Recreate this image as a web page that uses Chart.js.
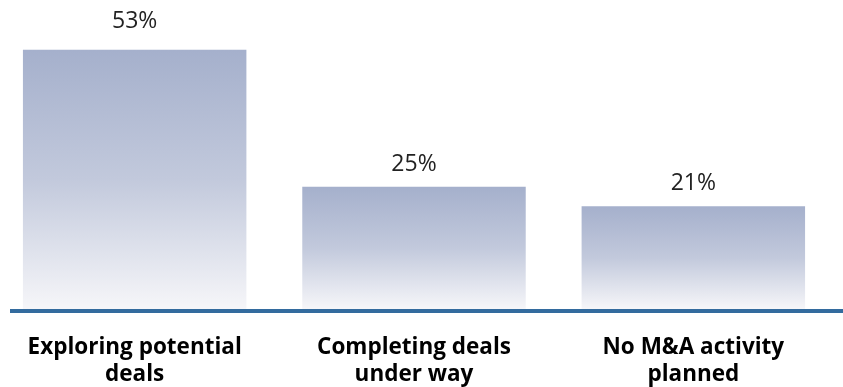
<!DOCTYPE html>
<html>
<head>
<meta charset="utf-8">
<script src="https://cdn.jsdelivr.net/npm/chart.js@4.4.1/dist/chart.umd.min.js"></script>
<style>
    html, body { margin: 0; padding: 0; background: #ffffff; overflow: hidden; }
    #wrap { position: relative; width: 843px; height: 387px; overflow: hidden; }
    #wrap canvas { position: absolute; left: -5px; top: 0; }
</style>
</head>
<body>
<div id="wrap"><canvas id="mnaChart" width="848" height="387"></canvas></div>
<script>
// Datos del gráfico
const categorias = [
    ['Exploring potential', 'deals'],
    ['Completing deals', 'under way'],
    ['No M&A activity', 'planned']
];
const porcentajes = [53, 25, 21];

// Degradado vertical por barra: azul grisáceo arriba, casi blanco en la base
function degradadoBarra(context) {
    const chart = context.chart;
    const area = chart.chartArea;
    if (!area) return '#a5b0cc';
    const yScale = chart.scales.y;
    const valor = porcentajes[context.dataIndex];
    const top = yScale.getPixelForValue(valor);
    const base = yScale.getPixelForValue(0);
    const g = chart.ctx.createLinearGradient(0, top, 0, base);
    g.addColorStop(0, '#a5b0cc');
    g.addColorStop(0.5, '#c2c9dc');
    g.addColorStop(1, '#f6f6f9');
    return g;
}

// Línea base azul y etiquetas de porcentaje
const etiquetasPlugin = {
    id: 'etiquetas',
    afterDatasetsDraw(chart) {
        const ctx = chart.ctx;
        const yScale = chart.scales.y;
        const base = yScale.getPixelForValue(0);
        ctx.save();
        ctx.fillStyle = '#336b9e';
        ctx.fillRect(15, base, chart.width - 15, 4);

        ctx.font = '23px "Open Sans", sans-serif';
        ctx.fillStyle = '#222222';
        ctx.textAlign = 'center';
        ctx.textBaseline = 'alphabetic';
        const meta = chart.getDatasetMeta(0);
        meta.data.forEach((bar, i) => {
            const gap = i === 0 ? 22 : 16;
            ctx.fillText(porcentajes[i] + '%', bar.x, bar.y - gap);
        });
        ctx.restore();
    }
};

function initializeChart() {
    const ctx = document.getElementById('mnaChart').getContext('2d');
    new Chart(ctx, {
        type: 'bar',
        data: {
            labels: categorias,
            datasets: [{
                data: porcentajes,
                backgroundColor: degradadoBarra,
                borderWidth: 0,
                categoryPercentage: 0.8,
                barPercentage: 1
            }]
        },
        options: {
            responsive: false,
            animation: false,
            layout: { padding: { left: 0, right: 10, top: 0, bottom: 0 } },
            plugins: {
                legend: { display: false },
                tooltip: { enabled: false }
            },
            scales: {
                x: {
                    grid: { display: false, drawTicks: false },
                    border: { display: false },
                    ticks: {
                        color: '#000000',
                        padding: 25,
                        maxRotation: 0,
                        autoSkip: false,
                        font: { family: '"Open Sans", sans-serif', size: 22.5, weight: 'bold', lineHeight: 1.2 }
                    },
                    afterFit(scale) { scale.height = 78; }
                },
                y: {
                    display: false,
                    min: 0,
                    max: 63.2
                }
            }
        },
        plugins: [etiquetasPlugin]
    });
}

document.addEventListener('DOMContentLoaded', initializeChart);
</script>
</body>
</html>
